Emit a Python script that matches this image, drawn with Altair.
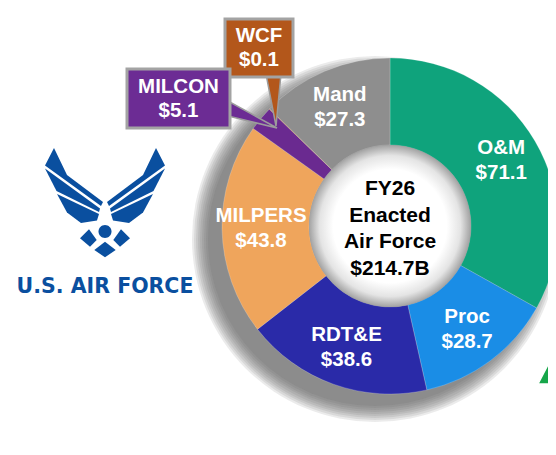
import math
import altair as alt
import pandas as pd

# ---------------- data ----------------
categories = ["O&M", "Proc", "RDT&E", "MILPERS", "MILCON", "WCF", "Mand"]
values = [71.1, 28.7, 38.6, 43.8, 5.1, 0.1, 27.3]
slice_colors = ["#0fa37c", "#1a8de6", "#2a2aa8", "#efa55c", "#6a2a90", "#b3571a", "#8e8e8e"]
inside_labels = ["O&M\n$71.1", "Proc\n$28.7", "RDT&E\n$38.6", "MILPERS\n$43.8", "", "", "Mand\n$27.3"]
center_lines = ["FY26", "Enacted", "Air Force", "$214.7B"]
callout_names = ["MILCON", "WCF"]
callout_values = ["$5.1", "$0.1"]
callout_colors = ["#6c2c94", "#b3571b"]
logo_text = "U.S. AIR FORCE"

# ---------------- layout (pixels) ----------------
W, H = 540, 439
CX, CY = 382, 218          # donut centre
R_OUT, R_IN = 168, 81
OFF = 8                    # page margin -> chart coords
FONT = "Liberation Sans"
LOGO_BLUE = "#0a4f9f"
LABEL_SIZE = 20.5
LABEL_LH = 25

df = pd.DataFrame({"cat": categories, "value": values,
                   "label": inside_labels, "idx": list(range(len(categories)))})

base = alt.Chart(df).encode(
    theta=alt.Theta("value:Q", stack=True),
    order=alt.Order("idx:Q"),
    x=alt.value(CX), y=alt.value(CY),
)

donut = base.mark_arc(radius=R_OUT, radius2=R_IN, stroke="#ffffff", strokeWidth=0.4, strokeOpacity=0.5).encode(
    color=alt.Color("cat:N", scale=alt.Scale(domain=categories, range=slice_colors), legend=None)
)

labels = base.mark_text(radius=129, font=FONT, fontSize=LABEL_SIZE, fontWeight="bold", color="white",
                        lineBreak="\n", lineHeight=LABEL_LH, align="center", baseline="middle",
                        dy=-LABEL_LH / 2).encode(
    text="label:N"
)

one = pd.DataFrame({"k": [0]})

def full_circle(r, r2, cx, cy, fill, opacity=1.0):
    props = dict(radius=r, fill=fill, theta=0, theta2=math.tau, strokeWidth=0, opacity=opacity)
    if r2:
        props["radius2"] = r2
    return alt.Chart(one).mark_arc(**props).encode(x=alt.value(cx), y=alt.value(cy))

def radial(stops):
    return {"gradient": "radial", "x1": 0.5, "y1": 0.5, "r1": 0, "x2": 0.5, "y2": 0.5, "r2": 0.5,
            "stops": [{"offset": o, "color": c} for o, c in stops]}

# soft drop shadow to the lower left: stacked translucent discs
shadow_layers = [full_circle(r, 0, CX - 15, CY + 13, "#5a5a5a", 0.12)
                 for r in range(183, 166, -2)]

hole = full_circle(R_IN, 0, CX, CY, radial([
    (0, "#ffffff"), (0.7, "#ffffff"), (0.87, "#e4e4e4"), (1, "#a2a2a2")]))

CENTER_LH = 26.5
center_text = alt.Chart(one).mark_text(
    text="\n".join(center_lines), lineBreak="\n", font=FONT, fontSize=21, fontWeight="bold",
    color="#000000", lineHeight=CENTER_LH, align="center", baseline="middle",
    dy=-CENTER_LH * (len(center_lines) - 1) / 2
).encode(x=alt.value(CX), y=alt.value(CY + 3))

# ---------------- decorative shapes (paths in chart pixel coords) ----------------
def poly(pts):
    return "M " + " L ".join(f"{x - OFF:.1f} {y - OFF:.1f}" for x, y in pts) + " Z"

def circ(cx, cy, r):
    cx, cy = cx - OFF, cy - OFF
    return (f"M {cx - r:.1f} {cy:.1f} A {r} {r} 0 1 0 {cx + r:.1f} {cy:.1f} "
            f"A {r} {r} 0 1 0 {cx - r:.1f} {cy:.1f} Z")

def mirror(pts, axis=105):
    return [(2 * axis - x, y) for x, y in pts]

wing_top = [(54, 148), (67, 175), (103, 202), (101, 206), (45, 165.5)]
wing_mid = [(45, 168.5), (100, 208.5), (99, 212), (56.5, 191)]
wing_bot = [(57, 194), (99, 214), (97, 220.5), (81, 223), (67, 212.5)]
diamond_l = [(80, 238.3), (89, 229.3), (96.7, 240), (90, 246.7)]
diamond_b = [(94.3, 250), (105, 241.7), (115.7, 250), (105, 257.3)]

shape_rows = []
for piece in (wing_top, wing_mid, wing_bot, diamond_l):
    shape_rows.append((poly(piece), LOGO_BLUE, LOGO_BLUE, 0))
    shape_rows.append((poly(mirror(piece)), LOGO_BLUE, LOGO_BLUE, 0))
shape_rows.append((poly(diamond_b), LOGO_BLUE, LOGO_BLUE, 0))
shape_rows.append((circ(105, 231.5, 6.5), LOGO_BLUE, LOGO_BLUE, 0))
# green triangle at the bottom-right edge
shape_rows.append((poly([(538, 384), (556, 349), (556, 384)]), "#16a64a", "#ffffff", 1.5))
# callout pointers
shape_rows.append((poly([(228, 101), (228, 116), (277, 128)]), callout_colors[0], "#9c9c9c", 1.5))
shape_rows.append((poly([(266, 74), (281, 74), (276, 126)]), callout_colors[1], "#9c9c9c", 1.5))

shapes_df = pd.DataFrame(shape_rows, columns=["path", "fill", "stroke", "sw"])
shapes = alt.Chart(shapes_df).mark_point(filled=True, opacity=1, size=4).encode(
    x=alt.value(0), y=alt.value(0),
    shape=alt.Shape("path:N", scale=None, legend=None),
    fill=alt.Fill("fill:N", scale=None, legend=None),
    stroke=alt.Stroke("stroke:N", scale=None, legend=None),
    strokeWidth=alt.StrokeWidth("sw:Q", scale=None, legend=None),
)

# callout boxes
boxes_df = pd.DataFrame({
    "x0": [127 - OFF, 225 - OFF], "x1": [230 - OFF, 293 - OFF],
    "y0": [69 - OFF, 19 - OFF], "y1": [128 - OFF, 77 - OFF],
    "fill": callout_colors,
    "text": [f"{n}\n{v}" for n, v in zip(callout_names, callout_values)],
})
boxes_df = boxes_df.iloc[::-1].reset_index(drop=True)
boxes = alt.Chart(boxes_df).mark_rect(stroke="#a3a3a3", strokeWidth=3).encode(
    x=alt.X("x0:Q", scale=None, axis=None), x2="x1:Q",
    y=alt.Y("y0:Q", scale=None, axis=None), y2="y1:Q",
    fill=alt.Fill("fill:N", scale=None, legend=None),
)
box_text = alt.Chart(boxes_df).transform_calculate(
    xm="(datum.x0 + datum.x1) / 2", ym="(datum.y0 + datum.y1) / 2"
).mark_text(font=FONT, fontSize=LABEL_SIZE, fontWeight="bold", color="white", lineBreak="\n",
            lineHeight=24, align="center", baseline="middle", dy=-12).encode(
    x=alt.X("xm:Q", scale=None, axis=None), y=alt.Y("ym:Q", scale=None, axis=None),
    text="text:N",
)

logo_label = alt.Chart(one).mark_text(
    text=logo_text, font="DejaVu Sans", fontSize=20.5, fontWeight="bold", color=LOGO_BLUE,
    align="center", baseline="middle"
).encode(x=alt.value(105 - OFF), y=alt.value(287 - OFF))

chart = alt.layer(
    *shadow_layers, donut, hole, labels, center_text, shapes, boxes, box_text, logo_label
).properties(
    width=W, height=H, padding=0, autosize=alt.AutoSizeParams(type="none"),
    background="white",
).configure_view(stroke=None)

chart.save("out.html", embed_options={"renderer": "svg", "actions": False})
